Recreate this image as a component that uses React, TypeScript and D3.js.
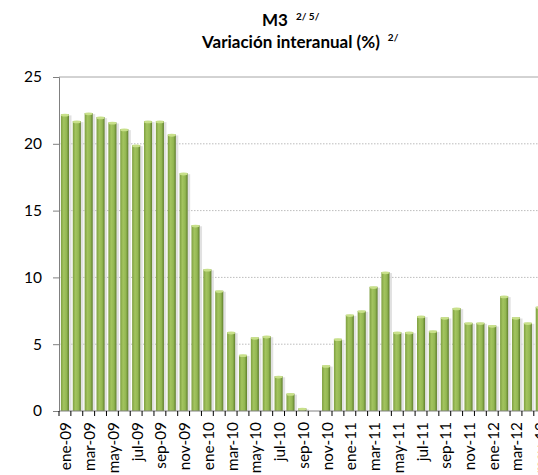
import React, { useEffect, useRef } from 'react'
import { select, scaleBand, scaleLinear, axisLeft } from 'd3'

const months = [
  'ene-09', 'feb-09', 'mar-09', 'abr-09', 'may-09', 'jun-09', 'jul-09', 'ago-09', 'sep-09', 'oct-09', 'nov-09', 'dic-09',
  'ene-10', 'feb-10', 'mar-10', 'abr-10', 'may-10', 'jun-10', 'jul-10', 'ago-10', 'sep-10', 'oct-10', 'nov-10', 'dic-10',
  'ene-11', 'feb-11', 'mar-11', 'abr-11', 'may-11', 'jun-11', 'jul-11', 'ago-11', 'sep-11', 'oct-11', 'nov-11', 'dic-11',
  'ene-12', 'feb-12', 'mar-12', 'abr-12', 'may-12',
]

const m3Growth = [
  22.2, 21.7, 22.3, 22.0, 21.6, 21.1, 19.9, 21.7, 21.7, 20.7, 17.8, 13.9,
  10.6, 9.0, 5.9, 4.2, 5.5, 5.6, 2.6, 1.3, 0.2, 0, 3.4, 5.4,
  7.2, 7.5, 9.3, 10.4, 5.9, 5.9, 7.1, 6.0, 7.0, 7.7, 6.6, 6.6,
  6.4, 8.6, 7.0, 6.6, 7.8,
]

const yTicks = [0, 5, 10, 15, 20, 25]

const font = 'Lato, "Open Sans", sans-serif'

function M3Chart() {
  const svgRef = useRef(null)

  useEffect(() => {
    const svg = select(svgRef.current)
    svg.selectAll('*').remove()

    const left = 59
    const top = 77
    const bottom = 411
    const band = 11.87

    const x = scaleBand()
      .domain(months)
      .range([left, left + band * months.length])
      .paddingInner(0.32)
      .paddingOuter(0.16)

    const y = scaleLinear().domain([0, 25]).range([bottom, top])

    const defs = svg.append('defs')
    const grad = defs.append('linearGradient').attr('id', 'barGrad')
      .attr('x1', '0%').attr('x2', '100%').attr('y1', '0%').attr('y2', '0%')
    grad.append('stop').attr('offset', '0%').attr('stop-color', '#7e9f40')
    grad.append('stop').attr('offset', '35%').attr('stop-color', '#a3c45f')
    grad.append('stop').attr('offset', '70%').attr('stop-color', '#93b752')
    grad.append('stop').attr('offset', '100%').attr('stop-color', '#5f7e2c')

    // gridlines
    svg.append('g')
      .selectAll('line')
      .data(yTicks.filter(t => t > 0 && t < 25))
      .join('line')
      .attr('x1', left).attr('x2', 538)
      .attr('y1', d => y(d)).attr('y2', d => y(d))
      .attr('stroke', '#bdbdbd')
      .attr('stroke-dasharray', '1.5,1.5')

    svg.append('line')
      .attr('x1', left).attr('x2', 538)
      .attr('y1', y(25)).attr('y2', y(25))
      .attr('stroke', '#a6a6a6')

    // bar shadows
    svg.append('g')
      .selectAll('rect')
      .data(m3Growth)
      .join('rect')
      .attr('x', (d, i) => x(months[i]) + 1.5)
      .attr('y', d => y(d) + 1)
      .attr('width', x.bandwidth() + 1)
      .attr('height', d => Math.max(0, bottom - y(d) - 1))
      .attr('fill', '#d9d9d9')
      .attr('opacity', d => (d > 0 ? 0.8 : 0))

    // bars
    svg.append('g')
      .selectAll('rect')
      .data(m3Growth)
      .join('rect')
      .attr('x', (d, i) => x(months[i]))
      .attr('y', d => y(d))
      .attr('width', x.bandwidth())
      .attr('height', d => bottom - y(d))
      .attr('fill', 'url(#barGrad)')

    // bar caps
    svg.append('g')
      .selectAll('ellipse')
      .data(m3Growth)
      .join('ellipse')
      .attr('cx', (d, i) => x(months[i]) + x.bandwidth() / 2)
      .attr('cy', d => y(d) + 0.8)
      .attr('rx', x.bandwidth() / 2)
      .attr('ry', 1.4)
      .attr('fill', '#c8e08a')
      .attr('opacity', d => (d > 0 ? 1 : 0))

    // y axis
    const yAxis = axisLeft(y).tickValues(yTicks).tickSize(6).tickPadding(11)
    const gy = svg.append('g')
      .attr('transform', `translate(${left},0)`)
      .call(yAxis)
    gy.select('.domain').attr('stroke', '#808080')
    gy.selectAll('.tick line').attr('stroke', '#808080')
    gy.selectAll('.tick text')
      .attr('font-family', font)
      .attr('font-size', 15.5)
      .attr('fill', '#000')

    // x axis
    svg.append('line')
      .attr('x1', left).attr('x2', 538)
      .attr('y1', bottom).attr('y2', bottom)
      .attr('stroke', '#808080')

    const step = x.step()
    svg.append('g')
      .selectAll('line')
      .data(months.map((m, i) => i).concat([months.length]))
      .join('line')
      .attr('x1', i => left + i * step).attr('x2', i => left + i * step)
      .attr('y1', bottom).attr('y2', bottom + 5)
      .attr('stroke', '#000')

    svg.append('g')
      .selectAll('text')
      .data(months.filter((m, i) => i % 2 === 0))
      .join('text')
      .attr('transform', d => `translate(${x(d) + x.bandwidth() / 2 + 6.5},${bottom + 11}) rotate(-90)`)
      .attr('text-anchor', 'end')
      .attr('font-family', font)
      .attr('font-size', 15.3)
      .attr('fill', '#000')
      .text(d => d)

    // title
    const t1 = svg.append('text')
      .attr('x', 262).attr('y', 26)
      .attr('font-family', font).attr('font-weight', 'bold').attr('font-size', 17)
    t1.append('tspan').text('M3')
    t1.append('tspan').attr('dx', 8).attr('dy', -6).attr('font-size', 10).text('2/ 5/')

    const t2 = svg.append('text')
      .attr('x', 202).attr('y', 48)
      .attr('font-family', font).attr('font-weight', 'bold').attr('font-size', 17)
    t2.append('tspan').text('Variación interanual (%)')
    t2.append('tspan').attr('dx', 8).attr('dy', -7).attr('font-size', 10).text('2/')
  }, [])

  return <svg ref={svgRef} width={538} height={475} style={{ position: 'absolute', left: 0, top: 0 }} />
}

export default function App() {
  return <M3Chart />
}
